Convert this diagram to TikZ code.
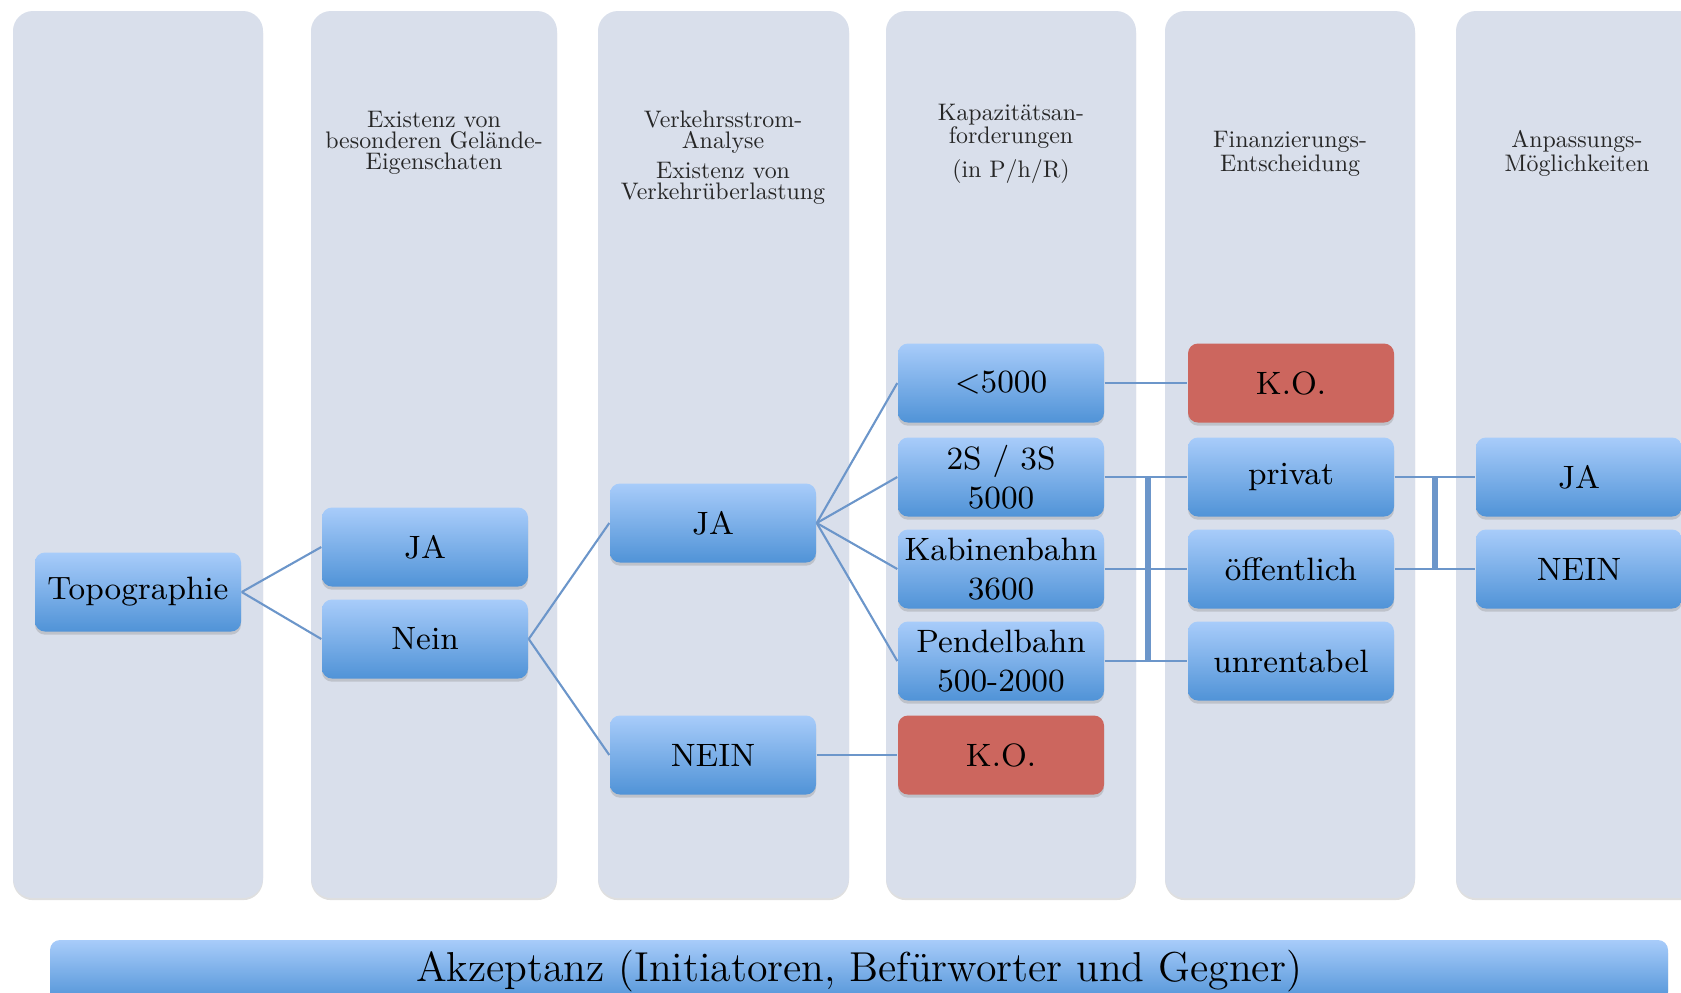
\documentclass[tikz,border=0pt]{standalone}
\usepackage{tikz}
\usetikzlibrary{shadows}
\definecolor{colone}{RGB}{217,223,235}
\definecolor{coltwo}{RGB}{168,204,250}
\definecolor{colthree}{RGB}{80,147,215}
\definecolor{colfour}{RGB}{204,102,94}
\definecolor{colfive}{RGB}{108,150,202}
\tikzset{%
       colbox/.style = { fill=colone, rounded corners=2mm, drop shadow={shadow xshift=0pt, shadow yshift=-0.6pt, opacity=0.25} },
     headtext/.style = { align=center, text=black!85, scale=0.68, font=\fontsize{10}{8.9}\selectfont },
      boxbase/.style = { rounded corners=1mm, minimum width=2.06cm, minimum height=0.79cm, inner sep=1pt, align=center,
                         font=\fontsize{9.2}{11.2}\selectfont, drop shadow={shadow xshift=0pt, shadow yshift=-0.9pt, opacity=0.3} },
        bluebox/.style = { boxbase, top color=coltwo, bottom color=colthree },
          kobox/.style = { boxbase, fill=colfour },
     linkline/.style = { draw=colfive, line width=0.6pt },
      barline/.style = { draw=colfive, line width=1.5pt }
}

\begin{document}
\begin{tikzpicture}

  \useasboundingbox (0,0) rectangle (16.81,-9.92);

  \draw[colbox, draw=none] (0.13,-0.11) rectangle (2.63,-8.98);
  \draw[colbox, draw=none] (3.11,-0.11) rectangle (5.57,-8.98);
  \draw[colbox, draw=none] (5.98,-0.11) rectangle (8.49,-8.98);
  \draw[colbox, draw=none] (8.86,-0.11) rectangle (11.36,-8.98);
  \draw[colbox, draw=none] (11.65,-0.11) rectangle (14.15,-8.98);
  \draw[colbox, draw=none] (14.56,-0.11) rectangle (17.10,-8.98);

  \node[headtext] (hgel) at (4.34,-1.43) {Existenz von\\besonderen Gelände-\\Eigenschaten};
  \node[headtext] (hverk) at (7.23,-1.575) {Verkehrsstrom-\\Analyse\\[1.2mm]Existenz von\\Verkehrüberlastung};
  \node[headtext] (hkap) at (10.11,-1.435) {Kapazitätsan-\\forderungen\\[1.2mm](in P/h/R)};
  \node[headtext] (hfin) at (12.90,-1.535) {Finanzierungs-\\Entscheidung};
  \node[headtext] (hanp) at (15.77,-1.535) {Anpassungs-\\Möglichkeiten};

  \node[bluebox] (topo) at (1.38,-5.92) {Topographie};
  \node[bluebox] (jagel) at (4.25,-5.47) {JA};
  \node[bluebox] (neingel) at (4.25,-6.39) {Nein};
  \node[bluebox] (javerk) at (7.13,-5.23) {JA};
  \node[bluebox] (neinverk) at (7.13,-7.55) {NEIN};
  \node[bluebox] (kapone) at (10.01,-3.83) {\textless5000};
  \node[bluebox] (kaptwo) at (10.01,-4.77) {2S / 3S\\5000};
  \node[bluebox] (kapthree) at (10.01,-5.69) {Kabinenbahn\\3600};
  \node[bluebox] (kapfour) at (10.01,-6.61) {Pendelbahn\\500-2000};
  \node[kobox] (kokap) at (10.01,-7.55) {K.O.};
  \node[kobox] (kofin) at (12.91,-3.83) {K.O.};
  \node[bluebox] (privat) at (12.91,-4.77) {privat};
  \node[bluebox] (oeff) at (12.91,-5.69) {öffentlich};
  \node[bluebox] (unrent) at (12.91,-6.61) {unrentabel};
  \node[bluebox] (jaanp) at (15.79,-4.77) {JA};
  \node[bluebox] (neinanp) at (15.79,-5.69) {NEIN};

  \node[bluebox, minimum width=16.18cm, minimum height=0.62cm, font=\fontsize{11.9}{14}\selectfont] (akz) at (8.59,-9.71) {Akzeptanz (Initiatoren, Befürworter und Gegner)};

  \coordinate (finbar) at (11.48,0);
  \coordinate (anpbar) at (14.35,0);

  \draw[linkline] (topo.east) -- (jagel.west);
  \draw[linkline] (topo.east) -- (neingel.west);
  \draw[linkline] (neingel.east) -- (javerk.west);
  \draw[linkline] (neingel.east) -- (neinverk.west);
  \draw[linkline] (javerk.east) -- (kapone.west);
  \draw[linkline] (javerk.east) -- (kaptwo.west);
  \draw[linkline] (javerk.east) -- (kapthree.west);
  \draw[linkline] (javerk.east) -- (kapfour.west);
  \draw[linkline] (neinverk) -- (kokap);
  \draw[linkline] (kapone) -- (kofin);
  \draw[linkline] (kaptwo) -- (privat);
  \draw[linkline] (kapthree) -- (oeff);
  \draw[linkline] (kapfour) -- (unrent);
  \draw[barline] (kaptwo.east -| finbar) -- (kapfour.east -| finbar);
  \draw[linkline] (privat) -- (jaanp);
  \draw[linkline] (oeff) -- (neinanp);
  \draw[barline] (privat.east -| anpbar) -- (oeff.east -| anpbar);

\end{tikzpicture}
\end{document}
